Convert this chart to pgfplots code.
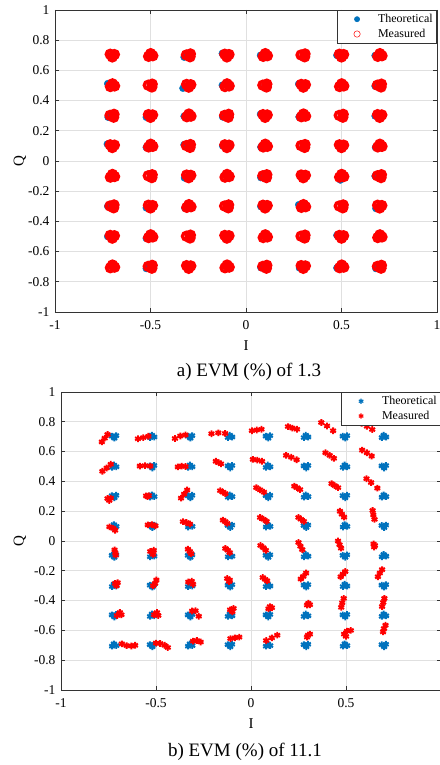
\documentclass[border=0pt]{standalone}
\usepackage{fontspec}
\setmainfont{Liberation Serif}
\usepackage{pgfplots}
\pgfplotsset{compat=1.18}

\definecolor{mblue}{RGB}{0,114,189}
\definecolor{mred}{RGB}{255,0,0}

\pgfplotsset{
  limg/.style={legend image code/.code={%
      \pgfpathrectangle{\pgfpoint{0pt}{-3pt}}{\pgfpoint{37pt}{6pt}}\pgfusepath{discard}%
      \draw[mark repeat=2,mark phase=2,##1]
      plot coordinates {(0pt,0pt) (18pt,0pt) (37pt,0pt)};}},
  constel/.style={
    scale only axis,
    xmin=-1, xmax=1, ymin=-1, ymax=1,
    ytick={-1,-0.8,-0.6,-0.4,-0.2,0,0.2,0.4,0.6,0.8,1},
    grid=major,
    grid style={black!12, line width=0.6pt},
    axis line style={black!80, line width=0.8pt},
    tick align=inside, tick pos=both,
    major tick length=4pt,
    tick style={black!80, line width=0.6pt},
    /pgf/number format/assume math mode=true,
    ticklabel style={font=\fontsize{13.5}{13.5}\selectfont},
    xticklabel style={yshift=-5pt},
    yticklabel style={xshift=-2pt},
    label style={font=\fontsize{15}{15}\selectfont},
    xlabel={I}, ylabel={Q},
    xlabel style={at={(axis description cs:0.5,0)}, anchor=center, yshift=-34pt},
    legend style={at={(1,1)}, anchor=north east, draw=black!80, line width=0.6pt,
      fill=white, font=\fontsize{12}{13}\selectfont, inner xsep=2pt, inner ysep=2pt,
      row sep=1pt},
    legend cell align=left,
  }
}

\begin{document}
\begin{tikzpicture}
\useasboundingbox (0pt,0pt) rectangle (439pt,765pt);

% ---------------- a) EVM 1.3 % ----------------
\begin{axis}[constel,
  at={(55pt,453pt)}, anchor=south west,
  width=382pt, height=302pt,
  xtick={-1,-0.5,0,0.5,1},
  ylabel style={at={(axis description cs:0,0.5)}, anchor=center, yshift=35pt},
]
\addlegendimage{only marks, mark=*, mark size=2.6pt, color=mblue, limg}
\addlegendentry{Theoretical}
\addlegendimage{only marks, mark=o, mark size=3.2pt, color=mred, line width=0.5pt, limg}
\addlegendentry{Measured}

% theoretical symbols
\addplot[only marks, mark=*, mark size=3.5pt, color=mblue, forget plot] coordinates {
(-0.700,0.700) (-0.500,0.700) (-0.324,0.688) (-0.124,0.712) (0.076,0.700) (0.300,0.700) (0.476,0.700) (0.676,0.698)
(-0.724,0.512) (-0.500,0.500) (-0.330,0.482) (-0.124,0.502) (0.100,0.500) (0.276,0.510) (0.500,0.500) (0.676,0.496)
(-0.722,0.290) (-0.522,0.290) (-0.324,0.296) (-0.122,0.292) (0.076,0.310) (0.278,0.292) (0.500,0.300) (0.676,0.298)
(-0.726,0.112) (-0.522,0.090) (-0.324,0.108) (-0.122,0.100) (0.078,0.092) (0.300,0.100) (0.500,0.100) (0.678,0.090)
(-0.700,-0.100) (-0.500,-0.100) (-0.322,-0.112) (-0.100,-0.100) (0.078,-0.110) (0.300,-0.100) (0.494,-0.126) (0.676,-0.100)
(-0.724,-0.300) (-0.522,-0.310) (-0.320,-0.312) (-0.100,-0.300) (0.078,-0.302) (0.276,-0.290) (0.500,-0.300) (0.680,-0.314)
(-0.724,-0.500) (-0.522,-0.512) (-0.300,-0.500) (-0.100,-0.500) (0.100,-0.500) (0.300,-0.500) (0.476,-0.492) (0.700,-0.500)
(-0.700,-0.700) (-0.522,-0.712) (-0.300,-0.700) (-0.100,-0.700) (0.078,-0.706) (0.280,-0.708) (0.476,-0.708) (0.680,-0.712)
};

% measured symbols
\addplot[only marks, mark=o, mark size=3.9pt, line width=3.4pt, color=mred, forget plot] coordinates {
(-0.711,0.707) (-0.689,0.705) (-0.700,0.689)
(-0.510,0.693) (-0.488,0.697) (-0.499,0.711)
(-0.312,0.702) (-0.291,0.709) (-0.293,0.690)
(-0.111,0.707) (-0.089,0.705) (-0.100,0.689)
(0.090,0.693) (0.112,0.697) (0.101,0.711)
(0.288,0.702) (0.309,0.709) (0.307,0.690)
(0.489,0.707) (0.511,0.705) (0.500,0.689)
(0.690,0.693) (0.712,0.697) (0.701,0.711)
(-0.710,0.493) (-0.688,0.497) (-0.699,0.511)
(-0.512,0.502) (-0.491,0.509) (-0.493,0.490)
(-0.311,0.507) (-0.289,0.505) (-0.300,0.489)
(-0.110,0.493) (-0.088,0.497) (-0.099,0.511)
(0.088,0.502) (0.109,0.509) (0.107,0.490)
(0.289,0.507) (0.311,0.505) (0.300,0.489)
(0.490,0.493) (0.512,0.497) (0.501,0.511)
(0.688,0.502) (0.709,0.509) (0.707,0.490)
(-0.712,0.302) (-0.691,0.309) (-0.693,0.290)
(-0.511,0.307) (-0.489,0.305) (-0.500,0.289)
(-0.310,0.293) (-0.288,0.297) (-0.299,0.311)
(-0.112,0.302) (-0.091,0.309) (-0.093,0.290)
(0.089,0.307) (0.111,0.305) (0.100,0.289)
(0.290,0.293) (0.312,0.297) (0.301,0.311)
(0.488,0.302) (0.509,0.309) (0.507,0.290)
(0.689,0.307) (0.711,0.305) (0.700,0.289)
(-0.711,0.107) (-0.689,0.105) (-0.700,0.089)
(-0.510,0.093) (-0.488,0.097) (-0.499,0.111)
(-0.312,0.102) (-0.291,0.109) (-0.293,0.090)
(-0.111,0.107) (-0.089,0.105) (-0.100,0.089)
(0.090,0.093) (0.112,0.097) (0.101,0.111)
(0.288,0.102) (0.309,0.109) (0.307,0.090)
(0.489,0.107) (0.511,0.105) (0.500,0.089)
(0.690,0.093) (0.712,0.097) (0.701,0.111)
(-0.710,-0.107) (-0.688,-0.103) (-0.699,-0.089)
(-0.512,-0.098) (-0.491,-0.091) (-0.493,-0.110)
(-0.311,-0.093) (-0.289,-0.095) (-0.300,-0.111)
(-0.110,-0.107) (-0.088,-0.103) (-0.099,-0.089)
(0.088,-0.098) (0.109,-0.091) (0.107,-0.110)
(0.289,-0.093) (0.311,-0.095) (0.300,-0.111)
(0.490,-0.107) (0.512,-0.103) (0.501,-0.089)
(0.688,-0.098) (0.709,-0.091) (0.707,-0.110)
(-0.712,-0.298) (-0.691,-0.291) (-0.693,-0.310)
(-0.511,-0.293) (-0.489,-0.295) (-0.500,-0.311)
(-0.310,-0.307) (-0.288,-0.303) (-0.299,-0.289)
(-0.112,-0.298) (-0.091,-0.291) (-0.093,-0.310)
(0.089,-0.293) (0.111,-0.295) (0.100,-0.311)
(0.290,-0.307) (0.312,-0.303) (0.301,-0.289)
(0.488,-0.298) (0.509,-0.291) (0.507,-0.310)
(0.689,-0.293) (0.711,-0.295) (0.700,-0.311)
(-0.711,-0.493) (-0.689,-0.495) (-0.700,-0.511)
(-0.510,-0.507) (-0.488,-0.503) (-0.499,-0.489)
(-0.312,-0.498) (-0.291,-0.491) (-0.293,-0.510)
(-0.111,-0.493) (-0.089,-0.495) (-0.100,-0.511)
(0.090,-0.507) (0.112,-0.503) (0.101,-0.489)
(0.288,-0.498) (0.309,-0.491) (0.307,-0.510)
(0.489,-0.493) (0.511,-0.495) (0.500,-0.511)
(0.690,-0.507) (0.712,-0.503) (0.701,-0.489)
(-0.710,-0.707) (-0.688,-0.703) (-0.699,-0.689)
(-0.512,-0.698) (-0.491,-0.691) (-0.493,-0.710)
(-0.311,-0.693) (-0.289,-0.695) (-0.300,-0.711)
(-0.110,-0.707) (-0.088,-0.703) (-0.099,-0.689)
(0.088,-0.698) (0.109,-0.691) (0.107,-0.710)
(0.289,-0.693) (0.311,-0.695) (0.300,-0.711)
(0.490,-0.707) (0.512,-0.703) (0.501,-0.689)
(0.688,-0.698) (0.709,-0.691) (0.707,-0.710)
};
\end{axis}
\node[font=\fontsize{19}{19}\selectfont] at (249pt,393pt) {a) EVM (\%) of 1.3};

% ---------------- b) EVM 11.1 % ----------------
\begin{axis}[constel,
  at={(61pt,75pt)}, anchor=south west,
  width=380pt, height=298pt,
  xtick={-1,-0.5,0,0.5},
  ylabel style={at={(axis description cs:0,0.5)}, anchor=center, yshift=41pt},
]
\addlegendimage{only marks, mark=asterisk, mark size=2.6pt, line width=1.2pt, color=mblue, limg}
\addlegendentry{Theoretical}
\addlegendimage{only marks, mark=asterisk, mark size=2.6pt, line width=1.2pt, color=mred, limg}
\addlegendentry{Measured}

% theoretical symbols
\addplot[only marks, mark=asterisk, mark size=3.3pt, line width=1.9pt, color=mblue, forget plot] coordinates {
(-0.732,0.704) (-0.710,0.707) (-0.719,0.690)
(-0.531,0.694) (-0.509,0.698) (-0.522,0.710)
(-0.332,0.704) (-0.310,0.707) (-0.319,0.690)
(-0.121,0.694) (-0.099,0.698) (-0.112,0.710)
(0.078,0.704) (0.100,0.707) (0.091,0.690)
(0.279,0.694) (0.301,0.698) (0.288,0.710)
(0.483,0.704) (0.505,0.707) (0.496,0.690)
(0.689,0.694) (0.711,0.698) (0.698,0.710)
(-0.731,0.494) (-0.709,0.498) (-0.722,0.510)
(-0.532,0.504) (-0.510,0.507) (-0.519,0.490)
(-0.331,0.494) (-0.309,0.498) (-0.322,0.510)
(-0.122,0.504) (-0.100,0.507) (-0.109,0.490)
(0.079,0.494) (0.101,0.498) (0.088,0.510)
(0.278,0.504) (0.300,0.507) (0.291,0.490)
(0.484,0.494) (0.506,0.498) (0.493,0.510)
(0.688,0.504) (0.710,0.507) (0.701,0.490)
(-0.732,0.304) (-0.710,0.307) (-0.719,0.290)
(-0.531,0.294) (-0.509,0.298) (-0.522,0.310)
(-0.332,0.304) (-0.310,0.307) (-0.319,0.290)
(-0.121,0.294) (-0.099,0.298) (-0.112,0.310)
(0.078,0.304) (0.100,0.307) (0.091,0.290)
(0.279,0.294) (0.301,0.298) (0.288,0.310)
(0.483,0.304) (0.505,0.307) (0.496,0.290)
(0.689,0.294) (0.711,0.298) (0.698,0.310)
(-0.731,0.094) (-0.709,0.098) (-0.722,0.110)
(-0.532,0.104) (-0.510,0.107) (-0.519,0.090)
(-0.331,0.094) (-0.309,0.098) (-0.322,0.110)
(-0.122,0.104) (-0.100,0.107) (-0.109,0.090)
(0.079,0.094) (0.101,0.098) (0.088,0.110)
(0.278,0.104) (0.300,0.107) (0.291,0.090)
(0.484,0.094) (0.506,0.098) (0.493,0.110)
(0.688,0.104) (0.710,0.107) (0.701,0.090)
(-0.732,-0.096) (-0.710,-0.093) (-0.719,-0.110)
(-0.531,-0.106) (-0.509,-0.102) (-0.522,-0.090)
(-0.332,-0.096) (-0.310,-0.093) (-0.319,-0.110)
(-0.121,-0.106) (-0.099,-0.102) (-0.112,-0.090)
(0.078,-0.096) (0.100,-0.093) (0.091,-0.110)
(0.279,-0.106) (0.301,-0.102) (0.288,-0.090)
(0.483,-0.096) (0.505,-0.093) (0.496,-0.110)
(0.689,-0.106) (0.711,-0.102) (0.698,-0.090)
(-0.731,-0.306) (-0.709,-0.302) (-0.722,-0.290)
(-0.532,-0.296) (-0.510,-0.293) (-0.519,-0.310)
(-0.331,-0.306) (-0.309,-0.302) (-0.322,-0.290)
(-0.122,-0.296) (-0.100,-0.293) (-0.109,-0.310)
(0.079,-0.306) (0.101,-0.302) (0.088,-0.290)
(0.278,-0.296) (0.300,-0.293) (0.291,-0.310)
(0.484,-0.306) (0.506,-0.302) (0.493,-0.290)
(0.688,-0.296) (0.710,-0.293) (0.701,-0.310)
(-0.732,-0.496) (-0.710,-0.493) (-0.719,-0.510)
(-0.531,-0.506) (-0.509,-0.502) (-0.522,-0.490)
(-0.332,-0.496) (-0.310,-0.493) (-0.319,-0.510)
(-0.121,-0.506) (-0.099,-0.502) (-0.112,-0.490)
(0.078,-0.496) (0.100,-0.493) (0.091,-0.510)
(0.279,-0.506) (0.301,-0.502) (0.288,-0.490)
(0.483,-0.496) (0.505,-0.493) (0.496,-0.510)
(0.689,-0.506) (0.711,-0.502) (0.698,-0.490)
(-0.731,-0.706) (-0.709,-0.702) (-0.722,-0.690)
(-0.532,-0.696) (-0.510,-0.693) (-0.519,-0.710)
(-0.331,-0.706) (-0.309,-0.702) (-0.322,-0.690)
(-0.122,-0.696) (-0.100,-0.693) (-0.109,-0.710)
(0.079,-0.706) (0.101,-0.702) (0.088,-0.690)
(0.278,-0.696) (0.300,-0.693) (0.291,-0.710)
(0.484,-0.706) (0.506,-0.702) (0.493,-0.690)
(0.688,-0.696) (0.710,-0.693) (0.701,-0.710)
};

% measured symbols
\addplot[only marks, mark=asterisk, mark size=3.3pt, line width=1.9pt, color=mred, forget plot] coordinates {
(-0.785,0.665) (-0.770,0.690) (-0.755,0.715)
(-0.595,0.686) (-0.567,0.694) (-0.540,0.703)
(-0.400,0.688) (-0.372,0.705) (-0.345,0.712)
(-0.208,0.720) (-0.172,0.726) (-0.136,0.722)
(0.005,0.740) (0.030,0.745) (0.055,0.750)
(0.195,0.768) (0.218,0.758) (0.242,0.750)
(0.370,0.795) (0.400,0.772) (0.432,0.740)
(0.582,0.790) (0.610,0.770) (0.638,0.748)
(-0.782,0.468) (-0.760,0.490) (-0.738,0.515)
(-0.585,0.503) (-0.558,0.506) (-0.530,0.503)
(-0.385,0.497) (-0.365,0.503) (-0.345,0.500)
(-0.185,0.535) (-0.170,0.526) (-0.158,0.518)
(0.010,0.548) (0.033,0.543) (0.058,0.535)
(0.185,0.575) (0.212,0.562) (0.240,0.545)
(0.392,0.592) (0.414,0.575) (0.436,0.555)
(0.585,0.610) (0.610,0.592) (0.635,0.570)
(-0.755,0.285) (-0.738,0.288) (-0.746,0.272)
(-0.552,0.303) (-0.538,0.305) (-0.545,0.298)
(-0.368,0.288) (-0.352,0.315) (-0.336,0.342)
(-0.162,0.338) (-0.148,0.328) (-0.135,0.318)
(0.028,0.358) (0.048,0.343) (0.068,0.328)
(0.228,0.368) (0.242,0.358) (0.258,0.345)
(0.424,0.385) (0.440,0.372) (0.458,0.358)
(0.608,0.418) (0.632,0.392) (0.665,0.355)
(-0.745,0.095) (-0.725,0.085) (-0.715,0.072)
(-0.543,0.108) (-0.522,0.110) (-0.503,0.102)
(-0.358,0.130) (-0.340,0.124) (-0.322,0.114)
(-0.148,0.140) (-0.135,0.130) (-0.125,0.118)
(0.048,0.158) (0.066,0.146) (0.082,0.132)
(0.250,0.158) (0.263,0.146) (0.278,0.132)
(0.468,0.200) (0.478,0.180) (0.490,0.160)
(0.640,0.205) (0.644,0.175) (0.650,0.145)
(-0.718,-0.060) (-0.714,-0.080) (-0.712,-0.095)
(-0.530,-0.070) (-0.512,-0.062) (-0.515,-0.090)
(-0.332,-0.055) (-0.322,-0.070) (-0.315,-0.085)
(-0.135,-0.050) (-0.122,-0.062) (-0.112,-0.078)
(0.050,-0.030) (0.065,-0.045) (0.078,-0.062)
(0.250,-0.010) (0.260,-0.035) (0.270,-0.058)
(0.458,0.000) (0.466,-0.025) (0.474,-0.048)
(0.645,-0.020) (0.652,-0.030) (0.648,-0.040)
(-0.715,-0.285) (-0.702,-0.280) (-0.708,-0.300)
(-0.515,-0.300) (-0.505,-0.285) (-0.498,-0.262)
(-0.330,-0.275) (-0.312,-0.270) (-0.305,-0.290)
(-0.125,-0.252) (-0.112,-0.262) (-0.115,-0.272)
(0.062,-0.245) (0.075,-0.258) (0.085,-0.268)
(0.262,-0.255) (0.275,-0.238) (0.290,-0.215)
(0.472,-0.240) (0.484,-0.222) (0.496,-0.205)
(0.668,-0.240) (0.678,-0.215) (0.690,-0.192)
(-0.705,-0.500) (-0.690,-0.480) (-0.682,-0.495)
(-0.510,-0.495) (-0.495,-0.480) (-0.488,-0.500)
(-0.310,-0.470) (-0.292,-0.468) (-0.275,-0.505)
(-0.110,-0.462) (-0.092,-0.452) (-0.098,-0.475)
(0.092,-0.455) (0.100,-0.440) (0.110,-0.448)
(0.295,-0.430) (0.302,-0.418) (0.310,-0.428)
(0.475,-0.445) (0.480,-0.415) (0.488,-0.385)
(0.690,-0.440) (0.696,-0.412) (0.702,-0.385)
(-0.680,-0.690) (-0.655,-0.702) (-0.630,-0.705) (-0.610,-0.700)
(-0.500,-0.685) (-0.478,-0.688) (-0.455,-0.700) (-0.438,-0.715)
(-0.305,-0.672) (-0.285,-0.668) (-0.265,-0.678)
(-0.108,-0.655) (-0.085,-0.650) (-0.062,-0.645)
(0.080,-0.668) (0.110,-0.650) (0.138,-0.632)
(0.295,-0.645) (0.300,-0.632) (0.310,-0.625)
(0.490,-0.625) (0.505,-0.605) (0.525,-0.600) (0.500,-0.640)
(0.695,-0.610) (0.700,-0.588) (0.708,-0.565)
};
\end{axis}
\node[font=\fontsize{19}{19}\selectfont] at (245pt,13pt) {b) EVM (\%) of 11.1};
\end{tikzpicture}
\end{document}
